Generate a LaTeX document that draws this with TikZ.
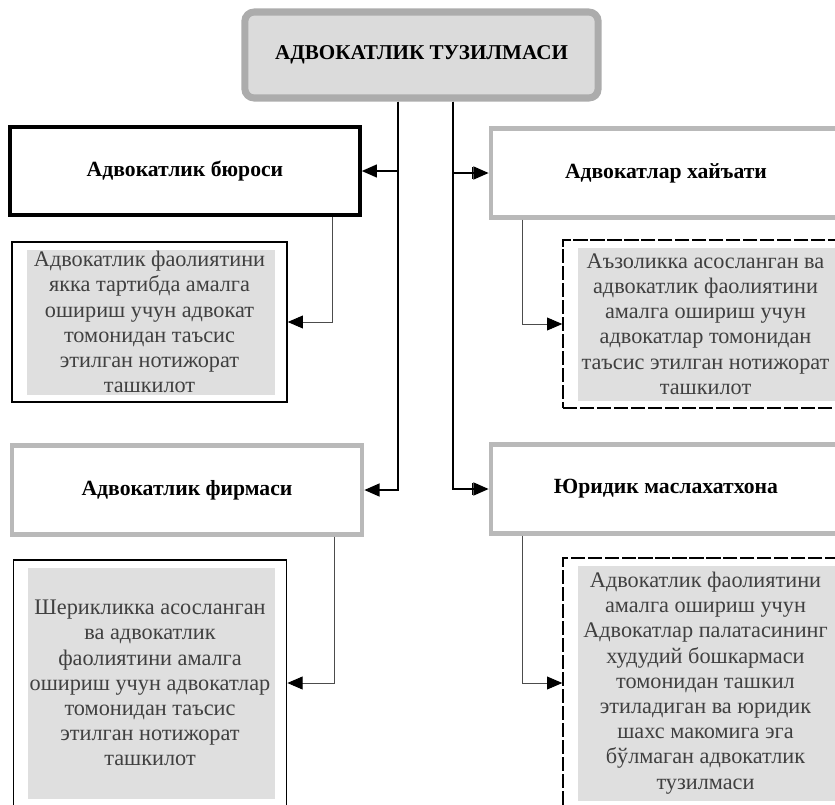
\documentclass[tikz,border=0pt]{standalone}
\usepackage{fontspec}
\setmainfont{Liberation Serif}
\usepackage{xcolor}
\usepackage{tikz}
\usetikzlibrary{arrows.meta, shadows}
\tikzstyle{title} = [rectangle, rounded corners=8pt, minimum width=10.6cm, minimum height=2.58cm, text centered, draw=gray!65, line width=6pt, fill=gray!28, drop shadow={opacity=0.35}, font=\fontsize{18}{20}\selectfont\bfseries]
\tikzstyle{header} = [rectangle, minimum width=10.5cm, minimum height=2.65cm, text centered, draw=gray!55, line width=4pt, fill=white, font=\fontsize{18.5}{20}\selectfont\bfseries]
\tikzstyle{desc} = [rectangle, text centered, draw=black, line width=1.2pt, fill=white, text=black!75, align=center, font=\fontsize{19}{21.5}\selectfont, path picture={\fill[gray!25] ([shift={(0.45cm,-0.25cm)}]path picture bounding box.north west) rectangle ([shift={(-0.35cm,0.22cm)}]path picture bounding box.south east);}]
\tikzstyle{longdash} = [dash pattern=on 12pt off 2.5pt]
\tikzstyle{trunk} = [line width=1.6pt,-{Triangle[length=13pt,width=11pt]}]
\tikzstyle{trunkbar} = [line width=1.6pt,-{Bar[width=10pt,line width=1.2pt,sep=0pt]Triangle[length=13pt,width=11pt]}]
\tikzstyle{link} = [line width=0.8pt,draw=black!70,-{Triangle[length=13pt,width=11pt,fill=black,color=black]}]

\begin{document}
\begin{tikzpicture}[x=0.03cm,y=-0.03cm]
  \useasboundingbox (0,0) rectangle (835,804);
  \clip (0,0) rectangle (835,804);

  % Title
  \node (title) [title] at (421.5,55) {АДВОКАТЛИК ТУЗИЛМАСИ};

  % Header Nodes
  \node (buro) [header, draw=black, line width=3pt] at (185,171) {Адвокатлик бюроси};
  \node (hayat) [header] at (666,173) {Адвокатлар хайъати};
  \node (firma) [header] at (187,490) {Адвокатлик фирмаси};
  \node (yurid) [header] at (666,489) {Юридик маслахатхона};

  % Description Nodes
  \node (burodesc) [desc, minimum width=8.25cm, minimum height=4.8cm] at (149.5,322) {Адвокатлик фаолиятини\\якка тартибда амалга\\ошириш учун адвокат\\томонидан таъсис\\этилган нотижорат\\ташкилот};
  \node (hayatdesc) [desc, longdash, minimum width=8.55cm, minimum height=5.04cm] at (705.5,324) {Аъзоликка асосланган ва\\адвокатлик фаолиятини\\амалга ошириш учун\\адвокатлар томонидан\\таъсис этилган нотижорат\\ташкилот};
  \node (firmadesc) [desc, minimum width=8.2cm, minimum height=7.38cm] at (150,683) {Шерикликка асосланган\\ва адвокатлик\\фаолиятини амалга\\ошириш учун адвокатлар\\томонидан таъсис\\этилган нотижорат\\ташкилот};
  \node (yuriddesc) [desc, longdash, minimum width=8.55cm, minimum height=7.5cm] at (705.5,683) {Адвокатлик фаолиятини\\амалга ошириш учун\\Адвокатлар палатасининг\\худудий бошкармаси\\томонидан ташкил\\этиладиган ва юридик\\шахс макомига эга\\бўлмаган адвокатлик\\тузилмаси};

  % Arrows
  \draw[trunk] ([shift={(-23.5,0)}]title.south) |- (buro.east);
  \draw[trunk] ([shift={(-23.5,0)}]title.south) |- (firma.east);
  \draw[trunkbar] ([shift={(31.5,0)}]title.south) |- (hayat.west);
  \draw[trunkbar] ([shift={(31.5,0)}]title.south) |- (yurid.west);

  \draw[link] ([shift={(147,0)}]buro.south) |- (burodesc.east);
  \draw[link] ([shift={(147,0)}]firma.south) |- (firmadesc.east);
  \draw[link] ([shift={(-144,0)}]hayat.south) |- (hayatdesc.west);
  \draw[link] ([shift={(-144,0)}]yurid.south) |- (yuriddesc.west);
\end{tikzpicture}
\end{document}
